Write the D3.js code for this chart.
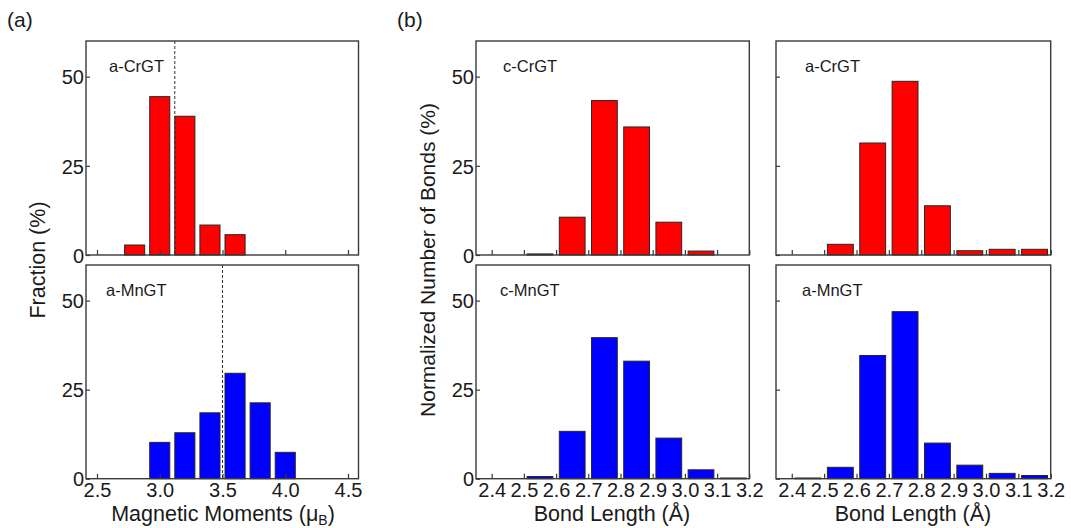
<!DOCTYPE html>
<html>
<head>
<meta charset="utf-8">
<script src="https://cdn.jsdelivr.net/npm/d3@7/dist/d3.min.js"></script>
<style>
  html, body { margin: 0; padding: 0; background: #fff; }
  svg { display: block; font-family: "Liberation Sans", Arial, sans-serif; }
</style>
</head>
<body>
<svg id="chart" width="1071" height="528"></svg>
<script>
// ---- data ----
// (a) magnetic moment histograms, bin centres in μB (bin width 0.2)
const momentBins = [2.8, 3.0, 3.2, 3.4, 3.6, 3.8, 4.0];
const momentCrGT = [2.8, 44.4, 38.9, 8.4, 5.7, 0, 0];
const momentMnGT = [0, 10.2, 12.9, 18.5, 29.6, 21.3, 7.4];
const meanMomentCrGT = 3.12;
const meanMomentMnGT = 3.5;
const momentTicks = [2.5, 3.0, 3.5, 4.0, 4.5];

// (b) bond length histograms, bin centres in Å (bin width 0.1)
const bondBins = [2.45, 2.55, 2.65, 2.75, 2.85, 2.95, 3.05, 3.15];
const bondCCrGT = [0, 0.3, 10.6, 43.3, 35.9, 9.2, 1.1, 0];
const bondACrGT = [0, 3.0, 31.4, 48.7, 13.8, 1.2, 1.6, 1.6];
const bondCMnGT = [0, 0.6, 13.3, 39.6, 33.0, 11.4, 2.5, 0.2];
const bondAMnGT = [0.2, 3.2, 34.6, 46.9, 10.0, 3.8, 1.5, 0.9];
const bondTicks = [2.4, 2.5, 2.6, 2.7, 2.8, 2.9, 3.0, 3.1, 3.2];

const fractionTicks = [0, 25, 50];

// ---- layout ----
const svg = d3.select("#chart");
const RED = "#ff0000", BLUE = "#0000ff";
const FRAME = "#3a3a3a", INK = "#1a1a1a";
const TICK_FONT = 20, TITLE_FONT = 21.5;
const rowTop = [{y0: 41, y1: 255}, {y0: 265, y1: 478.7}];

function panel(opts) {
  const {x0, x1, row, xDomain, bins, values, binWidth, color, label, labelDx,
         xTicks, xTickFmt, showXLabels, showYLabels, meanLine} = opts;
  const {y0, y1} = rowTop[row];
  const x = d3.scaleLinear().domain(xDomain).range([x0, x1]);
  const y = d3.scaleLinear().domain([0, 60]).range([y1, y0]);
  const g = svg.append("g");

  // bars
  const bw = binWidth * 0.8;
  g.selectAll("rect.bar")
    .data(bins.map((b, i) => ({b, v: values[i]})).filter(d => d.v > 0))
    .join("rect")
    .attr("class", "bar")
    .attr("x", d => x(d.b - bw / 2))
    .attr("width", d => x(d.b + bw / 2) - x(d.b - bw / 2))
    .attr("y", d => y(d.v))
    .attr("height", d => Math.max(0.8, y(0) - y(d.v)))
    .attr("fill", color)
    .attr("stroke", "#262626")
    .attr("stroke-width", 1);

  // bottom axis: inward ticks
  const xAxis = d3.axisBottom(x).tickValues(xTicks).tickSizeInner(-5).tickSizeOuter(0)
    .tickFormat(showXLabels ? xTickFmt : () => "");
  const gx = g.append("g").attr("transform", `translate(0,${y1})`).call(xAxis);
  gx.select(".domain").remove();
  gx.selectAll(".tick line").attr("stroke", FRAME).attr("stroke-width", 1.2);
  gx.selectAll(".tick text").attr("font-size", TICK_FONT).attr("fill", INK)
    .attr("y", 0).attr("dy", "0.9em");

  // left axis: inward ticks
  const yAxis = d3.axisLeft(y).tickValues(fractionTicks).tickSizeInner(-4).tickSizeOuter(0)
    .tickFormat(showYLabels ? d3.format("d") : () => "");
  const gy = g.append("g").attr("transform", `translate(${x0},0)`).call(yAxis);
  gy.select(".domain").remove();
  gy.selectAll(".tick line").attr("stroke", FRAME).attr("stroke-width", 1.2);
  gy.selectAll(".tick text").attr("font-size", TICK_FONT).attr("fill", INK).attr("x", -2)
    .attr("dy", "0.36em");

  // mean value marker
  if (meanLine !== undefined) {
    g.append("line")
      .attr("x1", x(meanLine)).attr("x2", x(meanLine))
      .attr("y1", y0).attr("y2", y1)
      .attr("stroke", "#333").attr("stroke-width", 1)
      .attr("stroke-dasharray", "3,2");
  }

  // frame
  g.append("rect")
    .attr("x", x0).attr("y", y0).attr("width", x1 - x0).attr("height", y1 - y0)
    .attr("fill", "none").attr("stroke", FRAME).attr("stroke-width", 1.4);

  // sample name
  g.append("text")
    .attr("x", x0 + labelDx).attr("y", y0 + 31)
    .attr("font-size", 16.5).attr("fill", INK)
    .text(label);
}

const fmt1 = d3.format(".1f");

// (a) magnetic moments: 2.5 → 97px, 4.5 → 348px
const aDomain = [2.5 - 11 / 125.5, 4.5 + 10.5 / 125.5];
panel({x0: 86, x1: 358.5, row: 0, xDomain: aDomain, bins: momentBins, values: momentCrGT,
       binWidth: 0.2, color: RED, label: "a-CrGT", labelDx: 23, xTicks: momentTicks,
       xTickFmt: fmt1, showXLabels: false, showYLabels: true, meanLine: meanMomentCrGT});
panel({x0: 86, x1: 358.5, row: 1, xDomain: aDomain, bins: momentBins, values: momentMnGT,
       binWidth: 0.2, color: BLUE, label: "a-MnGT", labelDx: 20, xTicks: momentTicks,
       xTickFmt: fmt1, showXLabels: true, showYLabels: true, meanLine: meanMomentMnGT});

// (b) bond lengths
const bDomain = [2.4 - 15.7 / 322, 3.2];
panel({x0: 476, x1: 749.3, row: 0, xDomain: bDomain, bins: bondBins, values: bondCCrGT,
       binWidth: 0.1, color: RED, label: "c-CrGT", labelDx: 27, xTicks: bondTicks,
       xTickFmt: fmt1, showXLabels: false, showYLabels: true});
panel({x0: 476, x1: 749.3, row: 1, xDomain: bDomain, bins: bondBins, values: bondCMnGT,
       binWidth: 0.1, color: BLUE, label: "c-MnGT", labelDx: 24, xTicks: bondTicks,
       xTickFmt: fmt1, showXLabels: true, showYLabels: true});
panel({x0: 776, x1: 1050.7, row: 0, xDomain: bDomain, bins: bondBins, values: bondACrGT,
       binWidth: 0.1, color: RED, label: "a-CrGT", labelDx: 29, xTicks: bondTicks,
       xTickFmt: fmt1, showXLabels: false, showYLabels: false});
panel({x0: 776, x1: 1050.7, row: 1, xDomain: bDomain, bins: bondBins, values: bondAMnGT,
       binWidth: 0.1, color: BLUE, label: "a-MnGT", labelDx: 26, xTicks: bondTicks,
       xTickFmt: fmt1, showXLabels: true, showYLabels: false});

// axis titles
svg.append("text").attr("transform", "translate(45,260) rotate(-90)")
  .attr("text-anchor", "middle").attr("font-size", TITLE_FONT).attr("fill", INK)
  .text("Fraction (%)");
svg.append("text").attr("transform", "translate(435,260) rotate(-90)")
  .attr("text-anchor", "middle").attr("font-size", 21).attr("fill", INK)
  .text("Normalized Number of Bonds (%)");

const magTitle = svg.append("text").attr("x", 223).attr("y", 521)
  .attr("text-anchor", "middle").attr("font-size", TITLE_FONT).attr("fill", INK);
magTitle.append("tspan").text("Magnetic Moments (μ");
magTitle.append("tspan").attr("font-size", 14).attr("dy", 4).text("B");
magTitle.append("tspan").attr("dy", -4).text(")");

svg.append("text").attr("x", 612).attr("y", 521).attr("text-anchor", "middle")
  .attr("font-size", TITLE_FONT).attr("fill", INK).text("Bond Length (Å)");
svg.append("text").attr("x", 913).attr("y", 521).attr("text-anchor", "middle")
  .attr("font-size", TITLE_FONT).attr("fill", INK).text("Bond Length (Å)");

// panel letters
svg.append("text").attr("x", 7).attr("y", 27).attr("font-size", 21).attr("fill", INK).text("(a)");
svg.append("text").attr("x", 397).attr("y", 27).attr("font-size", 21).attr("fill", INK).text("(b)");
</script>
</body>
</html>
